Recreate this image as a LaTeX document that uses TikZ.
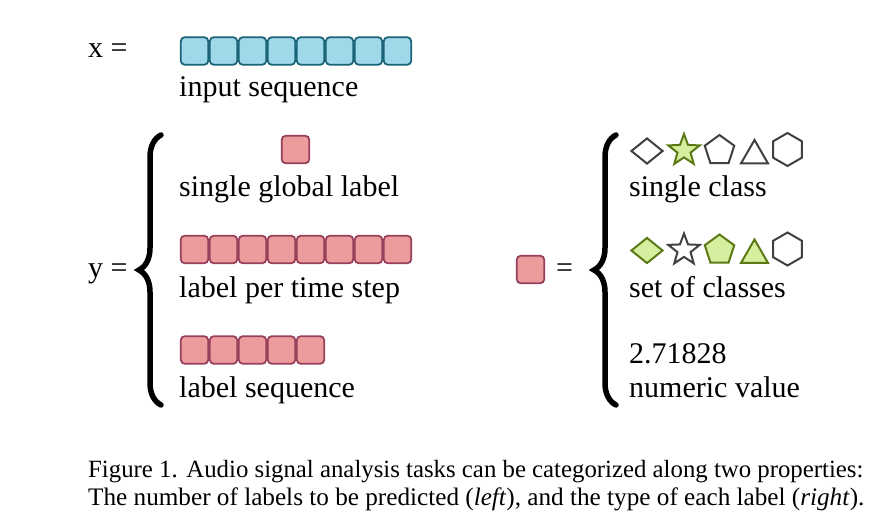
\documentclass[tikz,border=0pt]{standalone}
\usepackage{fontspec}
\setmainfont{Liberation Serif}
\usetikzlibrary{shapes.geometric,decorations.pathreplacing}
\definecolor{bluefill}{HTML}{9ED8E9}
\definecolor{blueedge}{HTML}{1B6478}
\definecolor{redfill}{HTML}{EC9C9C}
\definecolor{rededge}{HTML}{973F5B}
\definecolor{greenfill}{HTML}{D5EEA0}
\definecolor{greenedge}{HTML}{5B7A16}
\definecolor{grayedge}{HTML}{404040}
\tikzset{
  sqbase/.style={draw, rounded corners=4pt, line width=1.8pt, minimum size=27.5pt, inner sep=0pt},
  bsq/.style={sqbase, fill=bluefill, draw=blueedge},
  rsq/.style={sqbase, fill=redfill, draw=rededge},
  lbl/.style={anchor=base west, inner sep=0pt, font=\fontsize{30}{34}\selectfont},
  captxt/.style={anchor=base west, inner sep=0pt},
  bigbrace/.style={decorate, decoration={brace, amplitude=22pt}, line width=5.5pt, line cap=round},
  shp/.style={draw=grayedge, line width=2pt, inner sep=0pt, line join=miter},
  onshape/.style={fill=greenfill, draw=greenedge},
  dia/.style={shp, diamond, minimum width=32pt, minimum height=26pt},
  str/.style={shp, star, star points=5, star point ratio=2.4, minimum size=33pt},
  pent/.style={shp, regular polygon, regular polygon sides=5, minimum size=31pt},
  tri/.style={shp, regular polygon, regular polygon sides=3, minimum size=31pt},
  hex/.style={shp, regular polygon, regular polygon sides=6, shape border rotate=30, minimum size=33pt},
}
\begin{document}
\begin{tikzpicture}[x=1pt,y=-1pt]
\useasboundingbox (0,0) rectangle (876,525);
% x row
\node[lbl] (xeq) at (88,57) {x =};
\foreach \i in {0,...,7} {\node[bsq] (b\i) at (194.5+29*\i,51) {};}
\node[lbl] (tin) at (179,96) {input sequence};
% y
\node[lbl] (yeq) at (88,277) {y =};
\coordinate (lb1) at (161,405);
\coordinate (lb2) at (161,135);
\draw[bigbrace] (lb1) -- (lb2);
\node[rsq] (g0) at (295.5,149.5) {};
\node[lbl] (tg) at (179,196) {single global label};
\foreach \i in {0,...,7} {\node[rsq] (p\i) at (194.5+29*\i,249.5) {};}
\node[lbl] (tp) at (179,297) {label per time step};
\foreach \i in {0,...,4} {\node[rsq] (s\i) at (194.5+29*\i,350) {};}
\node[lbl] (ts) at (179,397) {label sequence};
% right side
\node[rsq] (r0) at (530.5,269.5) {};
\node[lbl] (req) at (556,277) {=};
\coordinate (rb1) at (616,405);
\coordinate (rb2) at (616,135);
\draw[bigbrace] (rb1) -- (rb2);
% row 1 shapes
\node[dia] (d1) at (647,151) {};
\node[str, onshape] (st1) at (684,150.5) {};
\node[pent] (pe1) at (719.5,150.5) {};
\node[tri] (tr1) at (754.5,155.5) {};
\node[hex] (hx1) at (787.5,149.5) {};
\node[lbl] (tsc) at (629,196) {single class};
% row 2 shapes
\node[dia, onshape] (d2) at (647,250.5) {};
\node[str] (st2) at (684,250) {};
\node[pent, onshape] (pe2) at (719.5,250) {};
\node[tri, onshape] (tr2) at (754.5,255) {};
\node[hex] (hx2) at (787.5,249) {};
\node[lbl] (tsoc) at (629,297) {set of classes};
\node[lbl] (tnum) at (629,363) {2.71828};
\node[lbl] (tnv) at (629,397) {numeric value};
% caption
\node[captxt, font=\fontsize{24.8}{29}\selectfont] (c1) at (88,477) {Figure 1.\hspace{0.35em}Audio signal analysis tasks can be categorized along two properties:};
\node[captxt, font=\fontsize{25.2}{29}\selectfont] (c2) at (88,505) {The number of labels to be predicted (\textit{left}), and the type of each label (\textit{right}).};
\end{tikzpicture}
\end{document}
